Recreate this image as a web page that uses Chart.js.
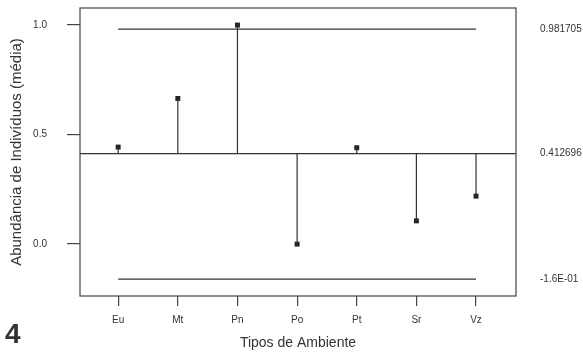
<!DOCTYPE html>
<html>
<head>
<meta charset="utf-8">
<script src="https://cdn.jsdelivr.net/npm/chart.js@4"></script>
<style>
    html, body { margin: 0; padding: 0; background: #fff; }
    #wrap { position: relative; width: 583px; height: 352px; }
    #panel { position: absolute; left: 5px; top: 320px; font: bold 28px "Liberation Sans", Arial, sans-serif; color: #333; line-height: 1; }
</style>
</head>
<body>
<div id="wrap">
    <canvas id="anomChart" width="583" height="352"></canvas>
    <div id="panel">4</div>
</div>
<script>
// 資料
const categories = ['Eu', 'Mt', 'Pn', 'Po', 'Pt', 'Sr', 'Vz'];
const means = [0.443, 0.665, 1.0, 0.0, 0.44, 0.106, 0.219];
const centerLine = 0.412696;
const upperLimit = 0.981705;
const lowerLimit = -0.16;
const yTicks = [0.0, 0.5, 1.0];
const rightTicks = [upperLimit, centerLine, lowerLimit];
const rightLabels = ['0.981705', '0.412696', '-1.6E-01'];

// 軸範圍
const xMin = -0.64, xMax = 6.67;
const yMin = -0.237, yMax = 1.078;

const INK = '#333';
const FONT = '"Liberation Sans", Arial, sans-serif';

// 垂直線段：中心線到平均值
const stems = [];
means.forEach((v, i) => {
    stems.push({ x: i, y: centerLine }, { x: i, y: v }, { x: i, y: null });
});

// 繪製外框
const frame = {
    id: 'frame',
    afterDraw(chart) {
        const a = chart.chartArea;
        const ctx = chart.ctx;
        ctx.save();
        ctx.strokeStyle = '#444';
        ctx.lineWidth = 1.2;
        ctx.strokeRect(a.left, a.top, a.right - a.left, a.bottom - a.top);
        ctx.restore();
    }
};

// 固定軸寬，不讓刻度文字推擠繪圖區
function fixWidth(w) {
    return s => {
        s.width = w;
        s.paddingTop = 0;
        s.paddingBottom = 0;
    };
}

const ctx = document.getElementById('anomChart').getContext('2d');
new Chart(ctx, {
    type: 'scatter',
    data: {
        datasets: [
            {
                data: [{ x: xMin, y: centerLine }, { x: xMax, y: centerLine }],
                showLine: true, borderColor: INK, borderWidth: 1.2, pointRadius: 0
            },
            {
                data: [{ x: 0, y: upperLimit }, { x: categories.length - 1, y: upperLimit }],
                showLine: true, borderColor: INK, borderWidth: 1.2, pointRadius: 0
            },
            {
                data: [{ x: 0, y: lowerLimit }, { x: categories.length - 1, y: lowerLimit }],
                showLine: true, borderColor: INK, borderWidth: 1.2, pointRadius: 0
            },
            {
                data: stems,
                showLine: true, spanGaps: false, borderColor: INK, borderWidth: 1.2, pointRadius: 0
            },
            {
                data: means.map((v, i) => ({ x: i, y: v })),
                pointStyle: 'rect', pointRadius: 3.5,
                backgroundColor: '#222', borderColor: '#222', borderWidth: 0
            }
        ]
    },
    options: {
        responsive: false,
        animation: false,
        layout: { padding: { top: 8, left: 0, right: 0, bottom: 0 } },
        plugins: {
            legend: { display: false },
            tooltip: { enabled: false }
        },
        scales: {
            x: {
                type: 'linear',
                min: xMin,
                max: xMax,
                afterBuildTicks: s => { s.ticks = categories.map((c, i) => ({ value: i })); },
                afterFit: s => { s.height = 56; s.paddingLeft = 0; s.paddingRight = 0; },
                border: { display: false },
                grid: { drawOnChartArea: false, drawTicks: true, tickLength: 10, color: '#444', lineWidth: 1.2 },
                ticks: {
                    padding: 8,
                    color: INK,
                    font: { family: FONT, size: 10 },
                    callback: v => categories[v]
                },
                title: {
                    display: true,
                    text: 'Tipos de Ambiente',
                    color: INK,
                    font: { family: FONT, size: 14 },
                    padding: { top: 0, bottom: 0 }
                }
            },
            y: {
                min: yMin,
                max: yMax,
                afterBuildTicks: s => { s.ticks = yTicks.map(v => ({ value: v })); },
                afterFit: fixWidth(80),
                border: { display: false },
                grid: { drawOnChartArea: false, drawTicks: true, tickLength: 13, color: '#444', lineWidth: 1.2 },
                ticks: {
                    padding: 20,
                    color: INK,
                    font: { family: FONT, size: 10 },
                    callback: v => v.toFixed(1)
                },
                title: {
                    display: true,
                    text: 'Abundância de Indivíduos (média)',
                    color: INK,
                    font: { family: FONT, size: 15 },
                    padding: { top: 8, bottom: 0 }
                }
            },
            y2: {
                position: 'right',
                min: yMin,
                max: yMax,
                afterBuildTicks: s => { s.ticks = rightTicks.map(v => ({ value: v })); },
                afterFit: fixWidth(67),
                border: { display: false },
                grid: { drawOnChartArea: false, drawTicks: false },
                ticks: {
                    padding: 24,
                    color: INK,
                    font: { family: FONT, size: 10 },
                    callback: (v, i) => rightLabels[i]
                }
            }
        }
    },
    plugins: [frame]
});
</script>
</body>
</html>
